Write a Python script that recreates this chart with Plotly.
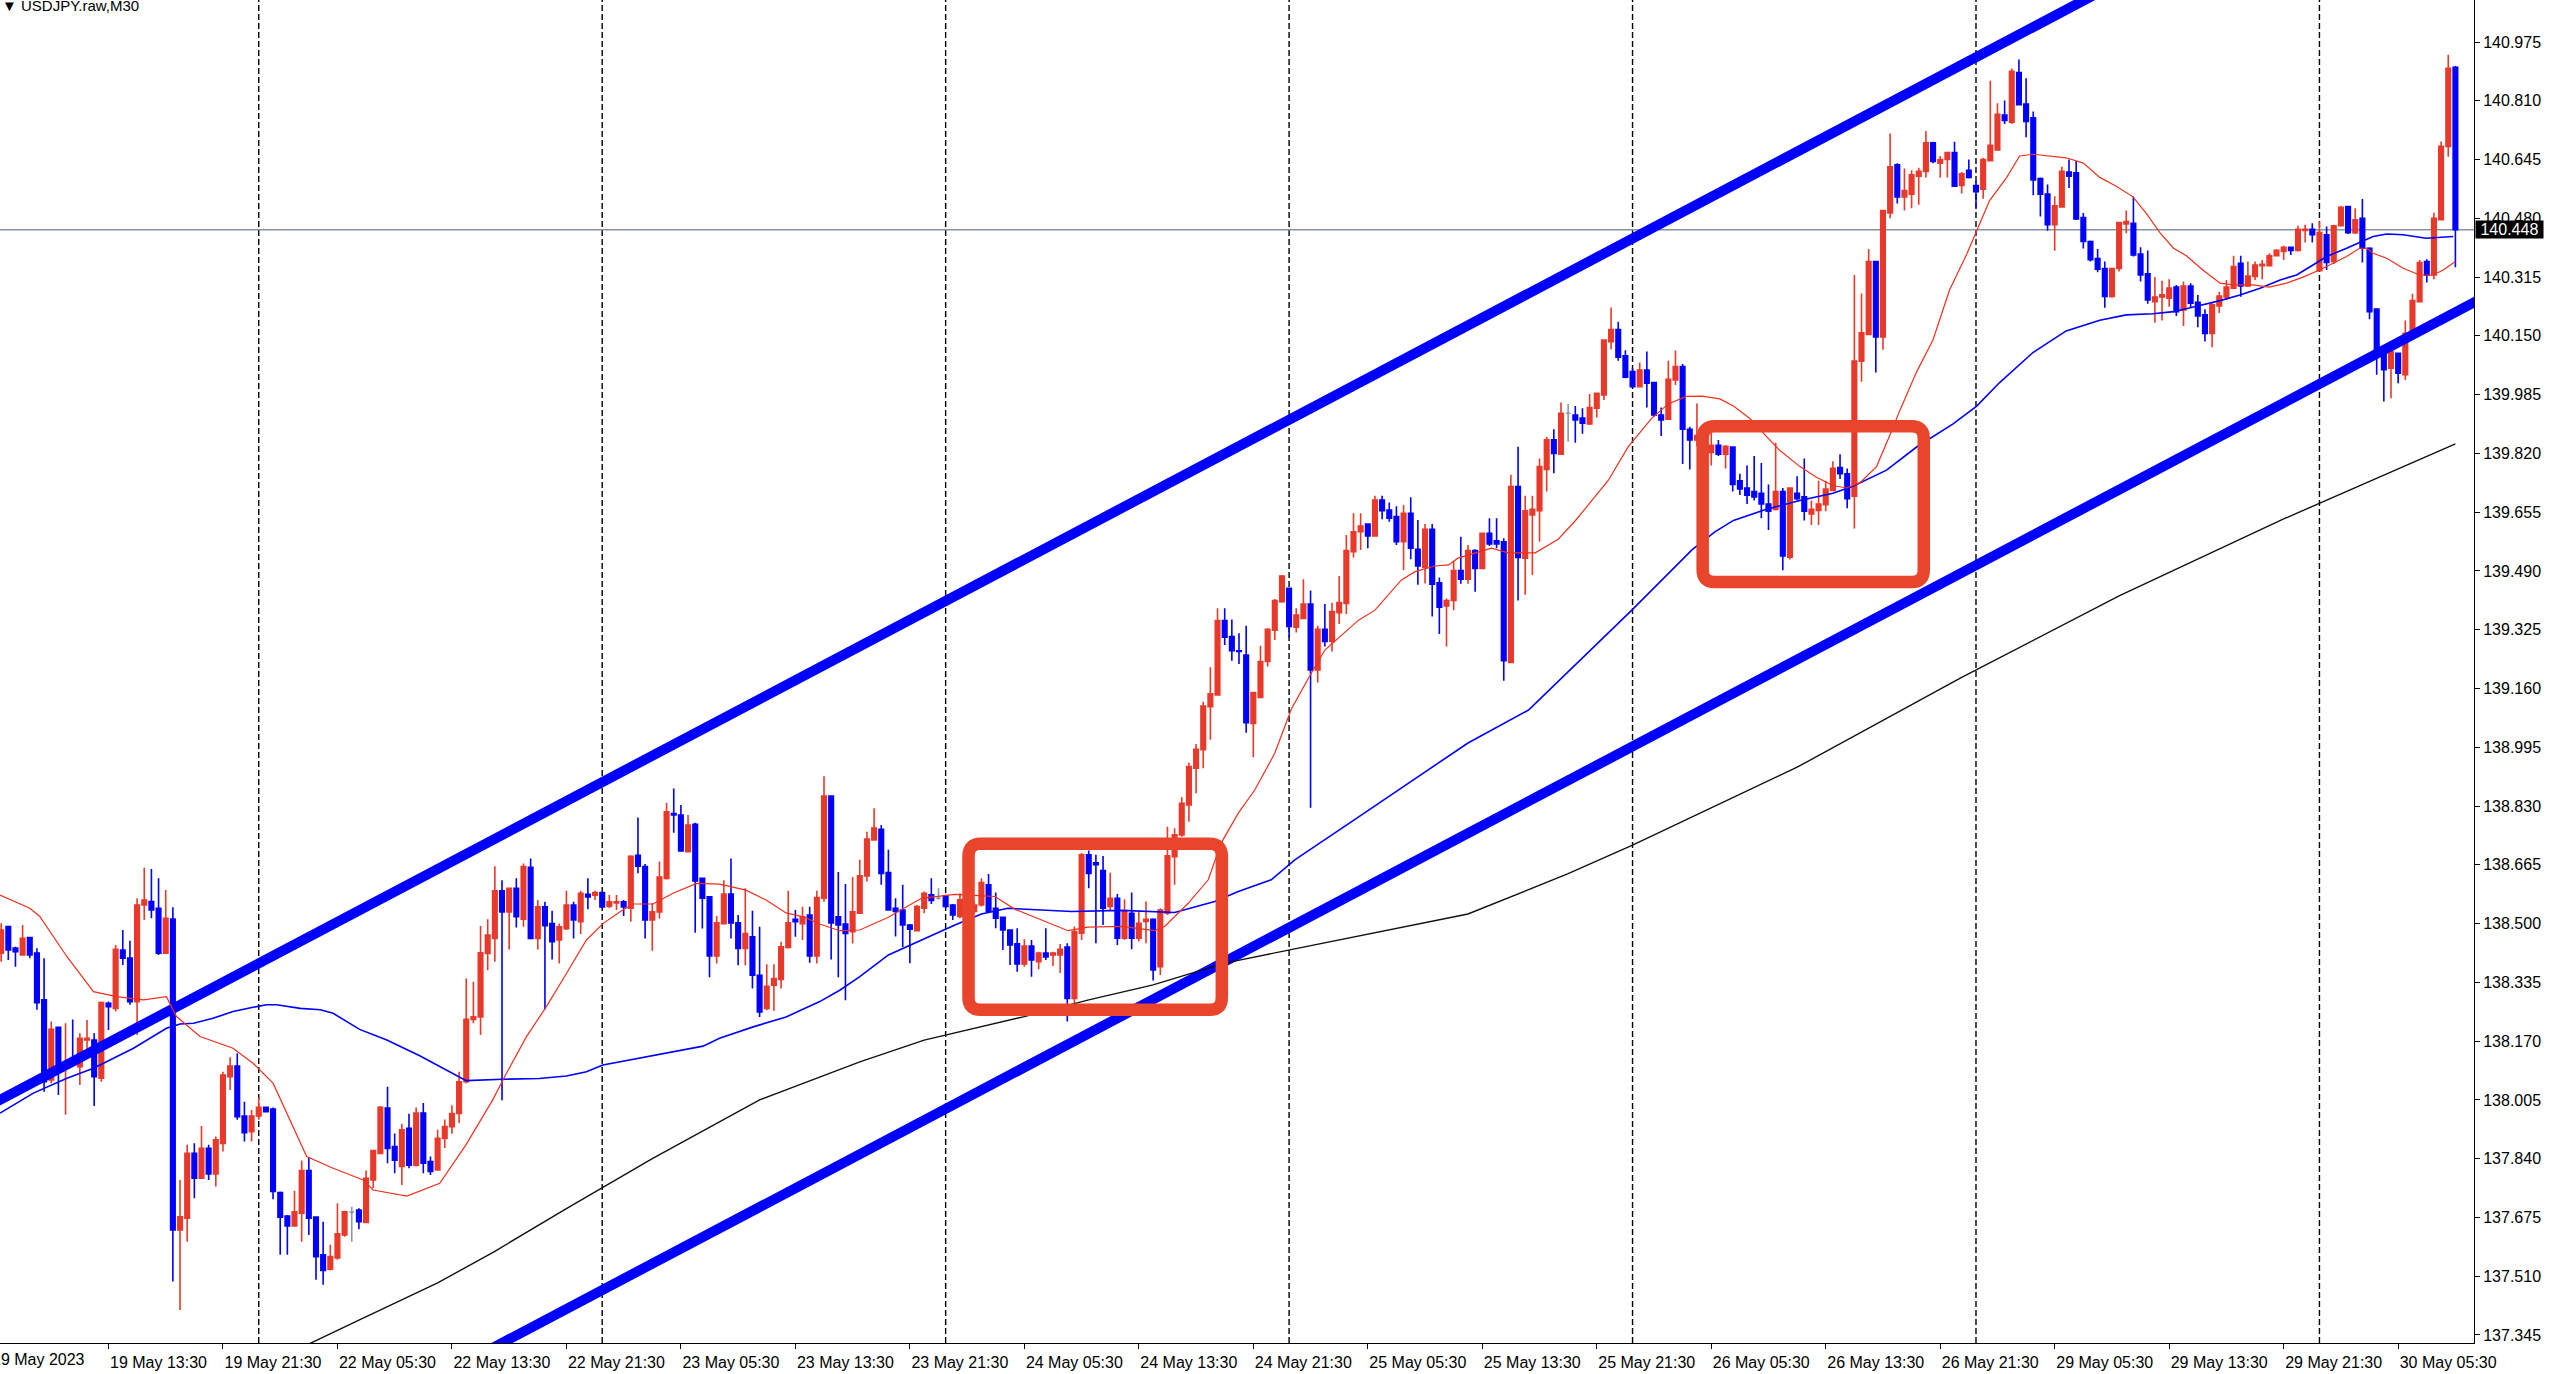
import pandas as pd
import plotly.graph_objects as go

# USDJPY.raw M30, one candle per 30 minutes from 19 May 06:00 to 30 May 09:30 (server time)
opens = [
    138.417, 138.492, 138.431, 138.412, 138.461, 138.417, 138.286, 138.061, 138.209, 138.094,
    138.122, 138.098, 138.173, 138.173, 138.066, 138.276, 138.262, 138.426, 138.403, 138.281,
    138.552, 138.562, 138.543, 138.417, 138.513, 137.640, 137.673, 137.855, 137.785, 137.869,
    137.797, 137.883, 138.070, 138.100, 137.960, 137.916, 137.960, 137.984, 137.979, 137.745,
    137.679, 137.651, 137.687, 137.807, 137.676, 137.570, 137.530, 137.561, 137.626, 137.690,
    137.696, 137.661, 137.780, 137.855, 137.982, 137.874, 137.818, 137.925, 137.822, 137.968,
    137.832, 137.808, 137.897, 137.930, 137.967, 138.056, 138.231, 138.238, 138.416, 138.458,
    138.592, 138.533, 138.599, 138.512, 138.658, 138.458, 138.547, 138.500, 138.454, 138.486,
    138.552, 138.505, 138.582, 138.580, 138.587, 138.549, 138.558, 138.561, 138.543, 138.692,
    138.660, 138.510, 138.533, 138.627, 138.809, 138.805, 138.702, 138.779, 138.627, 138.575,
    138.409, 138.500, 138.583, 138.502, 138.430, 138.463, 138.355, 138.262, 138.327, 138.343,
    138.433, 138.512, 138.500, 138.524, 138.409, 138.571, 138.858, 138.519, 138.499, 138.477,
    138.529, 138.634, 138.735, 138.765, 138.643, 138.543, 138.538, 138.496, 138.480, 138.543,
    138.581, 138.571, 138.578, 138.552, 138.520, 138.524, 138.534, 138.552, 138.609, 138.543,
    138.518, 138.482, 138.443, 138.387, 138.437, 138.393, 138.417, 138.412, 138.412, 138.434,
    138.290, 138.473, 138.693, 138.671, 138.649, 138.548, 138.571, 138.459, 138.529, 138.459,
    138.506, 138.512, 138.379, 138.529, 138.688, 138.749, 138.833, 138.936, 138.988, 139.109,
    139.142, 139.351, 139.306, 139.266, 139.254, 139.062, 139.135, 139.236, 139.324, 139.404,
    139.441, 139.332, 139.357, 139.397, 139.212, 139.326, 139.292, 139.373, 139.399, 139.544,
    139.600, 139.622, 139.588, 139.689, 139.661, 139.643, 139.572, 139.652, 139.551, 139.500,
    139.607, 139.457, 139.392, 139.407, 139.491, 139.467, 139.547, 139.497, 139.596, 139.575,
    139.572, 139.233, 139.727, 139.526, 139.647, 139.659, 139.775, 139.858, 139.818, 139.933,
    139.928, 139.919, 139.903, 139.947, 139.984, 140.134, 140.168, 140.094, 140.050, 140.007,
    140.054, 140.019, 139.928, 139.916, 140.026, 140.064, 139.888, 139.858, 139.858, 139.823,
    139.843, 139.818, 139.838, 139.743, 139.723, 139.713, 139.708, 139.678, 139.663, 139.713,
    139.529, 139.708, 139.698, 139.650, 139.660, 139.676, 139.716, 139.780, 139.763, 139.700,
    140.079, 140.154, 140.359, 140.147, 140.495, 140.630, 140.540, 140.548, 140.598, 140.612,
    140.692, 140.635, 140.645, 140.665, 140.572, 140.615, 140.572, 140.562, 140.642, 140.672,
    140.770, 140.750, 140.889, 140.801, 140.762, 140.592, 140.548, 140.462, 140.512, 140.610,
    140.608, 140.482, 140.415, 140.367, 140.339, 140.261, 140.339, 140.464, 140.466, 140.380,
    140.324, 140.246, 140.259, 140.256, 140.287, 140.223, 140.290, 140.244, 140.209, 140.157,
    140.234, 140.259, 140.284, 140.354, 140.290, 140.317, 140.347, 140.347, 140.375, 140.387,
    140.399, 140.390, 140.446, 140.449, 140.333, 140.434, 140.359, 140.459, 140.513, 140.440,
    140.480, 140.396, 140.225, 140.106, 140.059, 140.101, 140.041, 140.153, 140.246, 140.359,
    140.321, 140.476, 140.682, 140.904,
]
highs = [
    138.501, 138.493, 138.435, 138.496, 138.463, 138.431, 138.403, 138.225, 138.211, 138.220,
    138.231, 138.192, 138.229, 138.192, 138.281, 138.281, 138.440, 138.482, 138.452, 138.571,
    138.657, 138.653, 138.627, 138.594, 138.546, 137.780, 137.879, 137.883, 137.932, 137.879,
    137.902, 138.084, 138.125, 138.136, 138.000, 137.977, 138.012, 137.986, 137.984, 137.748,
    137.682, 137.750, 137.835, 137.844, 137.676, 137.663, 137.598, 137.715, 137.694, 137.705,
    137.701, 137.807, 137.863, 137.988, 138.042, 137.911, 137.938, 137.966, 137.984, 137.996,
    137.846, 137.921, 137.950, 137.990, 138.084, 138.346, 138.337, 138.493, 138.512, 138.661,
    138.622, 138.599, 138.627, 138.669, 138.683, 138.566, 138.561, 138.536, 138.500, 138.592,
    138.561, 138.592, 138.627, 138.592, 138.589, 138.580, 138.580, 138.566, 138.692, 138.798,
    138.667, 138.557, 138.674, 138.839, 138.879, 138.833, 138.805, 138.783, 138.627, 138.577,
    138.521, 138.622, 138.683, 138.524, 138.599, 138.536, 138.491, 138.386, 138.386, 138.449,
    138.592, 138.538, 138.547, 138.547, 138.592, 138.914, 138.858, 138.645, 138.611, 138.631,
    138.679, 138.758, 138.824, 138.777, 138.707, 138.571, 138.609, 138.499, 138.552, 138.590,
    138.627, 138.599, 138.581, 138.555, 138.585, 138.567, 138.562, 138.627, 138.639, 138.587,
    138.520, 138.484, 138.487, 138.456, 138.454, 138.421, 138.487, 138.421, 138.443, 138.445,
    138.492, 138.698, 138.705, 138.693, 138.690, 138.643, 138.583, 138.568, 138.587, 138.534,
    138.562, 138.515, 138.543, 138.772, 138.768, 138.855, 138.952, 139.004, 139.123, 139.220,
    139.385, 139.385, 139.354, 139.315, 139.336, 139.149, 139.280, 139.329, 139.411, 139.479,
    139.441, 139.385, 139.467, 139.435, 139.336, 139.397, 139.401, 139.476, 139.591, 139.652,
    139.652, 139.624, 139.701, 139.701, 139.682, 139.672, 139.675, 139.697, 139.633, 139.622,
    139.622, 139.472, 139.413, 139.519, 139.586, 139.563, 139.551, 139.598, 139.638, 139.638,
    139.582, 139.760, 139.839, 139.701, 139.701, 139.806, 139.867, 139.888, 139.963, 139.959,
    139.953, 139.947, 139.987, 139.989, 140.140, 140.230, 140.190, 140.110, 140.059, 140.075,
    140.106, 140.019, 139.949, 140.080, 140.109, 140.071, 139.895, 139.960, 139.868, 139.878,
    139.858, 139.843, 139.838, 139.763, 139.786, 139.813, 139.793, 139.733, 139.850, 139.723,
    139.723, 139.756, 139.806, 139.688, 139.743, 139.743, 139.798, 139.818, 139.778, 140.321,
    140.269, 140.394, 140.359, 140.502, 140.718, 140.635, 140.620, 140.615, 140.622, 140.725,
    140.695, 140.655, 140.665, 140.695, 140.610, 140.645, 140.585, 140.650, 140.866, 140.803,
    140.811, 140.901, 140.926, 140.873, 140.780, 140.595, 140.575, 140.542, 140.625, 140.645,
    140.642, 140.495, 140.418, 140.394, 140.359, 140.339, 140.470, 140.502, 140.541, 140.399,
    140.390, 140.315, 140.305, 140.309, 140.293, 140.303, 140.298, 140.265, 140.225, 140.242,
    140.274, 140.307, 140.375, 140.375, 140.359, 140.359, 140.363, 140.382, 140.393, 140.403,
    140.399, 140.459, 140.462, 140.466, 140.471, 140.457, 140.462, 140.515, 140.515, 140.508,
    140.534, 140.399, 140.225, 140.106, 140.113, 140.103, 140.193, 140.268, 140.363, 140.365,
    140.496, 140.696, 140.939, 140.908,
]
lows = [
    138.393, 138.398, 138.379, 138.412, 138.403, 138.258, 138.028, 138.052, 138.019, 137.963,
    138.098, 138.047, 138.136, 137.988, 138.056, 138.201, 138.253, 138.384, 138.272, 138.187,
    138.510, 138.515, 138.412, 138.417, 137.495, 137.415, 137.607, 137.729, 137.785, 137.780,
    137.762, 137.860, 138.033, 137.949, 137.888, 137.888, 137.949, 137.972, 137.726, 137.570,
    137.570, 137.649, 137.607, 137.626, 137.500, 137.486, 137.526, 137.556, 137.621, 137.607,
    137.642, 137.661, 137.757, 137.855, 137.827, 137.799, 137.766, 137.813, 137.818, 137.799,
    137.794, 137.808, 137.870, 137.910, 137.940, 138.051, 138.220, 138.187, 138.369, 138.393,
    138.004, 138.427, 138.489, 138.491, 138.458, 138.427, 138.259, 138.399, 138.388, 138.482,
    138.458, 138.471, 138.540, 138.566, 138.543, 138.543, 138.538, 138.521, 138.505, 138.641,
    138.458, 138.424, 138.514, 138.624, 138.755, 138.702, 138.702, 138.474, 138.486, 138.349,
    138.388, 138.500, 138.458, 138.383, 138.383, 138.318, 138.238, 138.257, 138.255, 138.318,
    138.430, 138.463, 138.454, 138.390, 138.388, 138.561, 138.399, 138.349, 138.285, 138.444,
    138.527, 138.618, 138.735, 138.609, 138.538, 138.464, 138.434, 138.389, 138.478, 138.529,
    138.555, 138.567, 138.543, 138.510, 138.515, 138.520, 138.529, 138.548, 138.531, 138.487,
    138.426, 138.384, 138.365, 138.379, 138.351, 138.372, 138.398, 138.381, 138.361, 138.225,
    138.272, 138.454, 138.599, 138.445, 138.496, 138.538, 138.440, 138.454, 138.428, 138.450,
    138.445, 138.340, 138.356, 138.524, 138.609, 138.744, 138.786, 138.866, 138.936, 139.016,
    139.142, 139.282, 139.238, 139.229, 139.036, 138.967, 139.135, 139.222, 139.296, 139.401,
    139.304, 139.317, 139.357, 138.825, 139.177, 139.278, 139.264, 139.341, 139.369, 139.528,
    139.549, 139.554, 139.588, 139.635, 139.628, 139.563, 139.493, 139.523, 139.451, 139.455,
    139.362, 139.313, 139.278, 139.380, 139.454, 139.454, 139.432, 139.497, 139.560, 139.554,
    139.182, 139.233, 139.407, 139.423, 139.479, 139.572, 139.713, 139.764, 139.816, 139.853,
    139.850, 139.875, 139.900, 139.921, 139.970, 140.112, 140.080, 140.031, 140.007, 140.006,
    139.949, 139.923, 139.869, 139.916, 140.012, 139.790, 139.775, 139.840, 139.818, 139.786,
    139.813, 139.778, 139.713, 139.703, 139.678, 139.688, 139.638, 139.605, 139.660, 139.492,
    139.522, 139.688, 139.632, 139.619, 139.619, 139.658, 139.716, 139.748, 139.666, 139.609,
    140.021, 140.154, 140.047, 140.111, 140.480, 140.522, 140.502, 140.508, 140.518, 140.595,
    140.635, 140.595, 140.595, 140.568, 140.550, 140.592, 140.510, 140.535, 140.642, 140.670,
    140.745, 140.745, 140.799, 140.708, 140.545, 140.485, 140.445, 140.389, 140.510, 140.565,
    140.475, 140.395, 140.359, 140.329, 140.229, 140.257, 140.331, 140.438, 140.373, 140.303,
    140.240, 140.187, 140.193, 140.232, 140.206, 140.178, 140.230, 140.174, 140.134, 140.118,
    140.214, 140.251, 140.281, 140.260, 140.287, 140.307, 140.309, 140.345, 140.373, 140.363,
    140.377, 140.387, 140.412, 140.412, 140.331, 140.335, 140.352, 140.457, 140.436, 140.436,
    140.356, 140.197, 140.041, 139.966, 139.975, 140.017, 140.026, 140.153, 140.246, 140.300,
    140.309, 140.476, 140.653, 140.343,
]
closes = [
    138.482, 138.426, 138.421, 138.459, 138.412, 138.278, 138.056, 138.203, 138.089, 138.108,
    138.103, 138.178, 138.178, 138.070, 138.278, 138.267, 138.428, 138.403, 138.281, 138.552,
    138.566, 138.538, 138.417, 138.515, 137.640, 137.677, 137.855, 137.785, 137.869, 137.797,
    137.893, 138.075, 138.100, 137.958, 137.913, 137.960, 137.984, 137.972, 137.748, 137.676,
    137.651, 137.691, 137.807, 137.673, 137.565, 137.526, 137.565, 137.629, 137.691, 137.690,
    137.663, 137.785, 137.863, 137.984, 137.869, 137.836, 137.921, 137.822, 137.968, 137.827,
    137.804, 137.897, 137.930, 137.967, 138.056, 138.231, 138.238, 138.418, 138.468, 138.592,
    138.533, 138.599, 138.519, 138.660, 138.458, 138.547, 138.494, 138.449, 138.491, 138.552,
    138.510, 138.585, 138.575, 138.587, 138.547, 138.561, 138.561, 138.547, 138.689, 138.661,
    138.510, 138.533, 138.631, 138.814, 138.805, 138.704, 138.777, 138.620, 138.571, 138.409,
    138.502, 138.583, 138.502, 138.430, 138.472, 138.355, 138.252, 138.324, 138.346, 138.435,
    138.502, 138.505, 138.519, 138.409, 138.573, 138.858, 138.502, 138.496, 138.472, 138.533,
    138.634, 138.737, 138.768, 138.641, 138.538, 138.534, 138.496, 138.484, 138.548, 138.585,
    138.565, 138.571, 138.548, 138.524, 138.567, 138.552, 138.552, 138.615, 138.534, 138.515,
    138.482, 138.440, 138.387, 138.437, 138.398, 138.417, 138.406, 138.417, 138.428, 138.290,
    138.478, 138.693, 138.641, 138.665, 138.543, 138.571, 138.459, 138.534, 138.459, 138.501,
    138.512, 138.370, 138.538, 138.690, 138.749, 138.838, 138.941, 138.989, 139.111, 139.145,
    139.351, 139.304, 139.266, 139.264, 139.064, 139.149, 139.236, 139.326, 139.407, 139.476,
    139.334, 139.366, 139.397, 139.212, 139.326, 139.292, 139.376, 139.401, 139.547, 139.600,
    139.616, 139.588, 139.689, 139.659, 139.638, 139.572, 139.652, 139.554, 139.504, 139.607,
    139.453, 139.388, 139.407, 139.491, 139.467, 139.547, 139.497, 139.596, 139.566, 139.566,
    139.238, 139.727, 139.528, 139.659, 139.663, 139.783, 139.858, 139.820, 139.933, 139.933,
    139.914, 139.905, 139.949, 139.989, 140.138, 140.168, 140.090, 140.034, 140.007, 140.054,
    140.017, 139.928, 139.914, 140.028, 140.064, 139.888, 139.858, 139.870, 139.828, 139.843,
    139.818, 139.840, 139.733, 139.720, 139.703, 139.698, 139.678, 139.658, 139.713, 139.532,
    139.723, 139.693, 139.658, 139.663, 139.678, 139.720, 139.778, 139.763, 139.693, 140.079,
    140.159, 140.359, 140.147, 140.502, 140.625, 140.540, 140.558, 140.602, 140.612, 140.692,
    140.640, 140.645, 140.665, 140.570, 140.605, 140.595, 140.555, 140.645, 140.685, 140.772,
    140.755, 140.893, 140.799, 140.752, 140.588, 140.548, 140.462, 140.515, 140.612, 140.598,
    140.478, 140.415, 140.364, 140.337, 140.261, 140.339, 140.468, 140.471, 140.377, 140.321,
    140.251, 140.259, 140.265, 140.284, 140.218, 140.290, 140.242, 140.206, 140.157, 140.237,
    140.262, 140.287, 140.345, 140.290, 140.318, 140.349, 140.351, 140.375, 140.390, 140.399,
    140.390, 140.449, 140.449, 140.434, 140.440, 140.356, 140.459, 140.511, 140.440, 140.476,
    140.396, 140.218, 140.106, 140.055, 140.106, 140.045, 140.157, 140.249, 140.356, 140.321,
    140.480, 140.682, 140.901, 140.448,
]

# moving averages as (bar number, price)
fast_ma_bars = [0.84, 5.0, 6.4, 10.2, 13.9, 17.1, 20.9, 24.1, 25.5, 28.8, 33.4, 36.2, 39.0, 40.9, 43.7,
                47.4, 51.6, 53.0, 57.7, 62.3, 66.0, 69.7, 71.6, 74.4, 77.2, 80.0, 82.8, 85.1, 87.5,
                89.3, 92.1, 94.9, 98.2, 101.4, 105.1, 107.9, 110.7, 113.1, 115.4, 118.2, 121.0,
                125.0, 129.6, 134.3, 139.9, 142.7, 145.9, 150.1, 152.9, 157.6, 162.2, 163.6, 166.9,
                169.7, 171.5, 173.9, 176.2, 179.0, 181.3, 183.7, 186.0, 190.7, 193.0, 196.7, 198.6,
                201.4, 203.3, 204.6, 209.3, 211.6, 215.4, 218.6, 221.0, 223.8, 225.6, 228.4, 230.3,
                231.7, 234.0, 236.5, 238.7, 241.2, 243.1, 245.4, 247.7, 249.6, 252.4, 254.7, 257.0,
                258.9, 260.8, 263.1, 265.0, 266.3, 268.7, 271.0, 273.3, 275.7, 277.1, 278.9, 281.3,
                283.1, 285.0, 287.8, 289.6, 292.0, 294.3, 296.6, 298.9, 300.8, 302.7, 304.6, 306.4,
                308.7, 311.1, 312.9, 315.7, 318.0, 320.4, 322.7, 325.0, 326.9, 328.8, 330.6, 331.6,
                332.5, 334.4, 336.7, 339.0, 340.9, 342.3, 344.0]
fast_ma_vals = [138.580, 138.543, 138.520, 138.407, 138.309, 138.295, 138.286, 138.295, 138.239,
                138.183, 138.150, 138.108, 138.052, 137.967, 137.846, 137.813, 137.780, 137.752,
                137.735, 137.771, 137.880, 138.005, 138.079, 138.182, 138.267, 138.360, 138.454,
                138.500, 138.533, 138.555, 138.555, 138.585, 138.613, 138.611, 138.594, 138.566,
                138.530, 138.519, 138.499, 138.480, 138.482, 138.518, 138.571, 138.582, 138.576,
                138.540, 138.515, 138.480, 138.490, 138.492, 138.480, 138.492, 138.557, 138.623,
                138.726, 138.810, 138.875, 138.978, 139.102, 139.189, 139.268, 139.352, 139.380,
                139.465, 139.488, 139.504, 139.507, 139.526, 139.554, 139.541, 139.541, 139.579,
                139.631, 139.699, 139.744, 139.839, 139.886, 139.919, 139.959, 139.980, 139.981,
                139.973, 139.953, 139.918, 139.868, 139.828, 139.783, 139.753, 139.730, 139.723,
                139.738, 139.783, 139.873, 139.938, 140.049, 140.139, 140.279, 140.379, 140.445,
                140.530, 140.595, 140.655, 140.660, 140.655, 140.650, 140.635, 140.595, 140.570,
                140.541, 140.494, 140.440, 140.396, 140.375, 140.335, 140.298, 140.293, 140.293,
                140.287, 140.298, 140.315, 140.335, 140.354, 140.373, 140.396, 140.396, 140.382,
                140.368, 140.340, 140.321, 140.321, 140.335, 140.359]

mid_ma_bars = [0.84, 5.5, 10.2, 13.9, 19.5, 24.1, 26.0, 27.9, 30.6, 33.4, 36.2, 38.1, 39.5, 42.8, 45.6,
               47.4, 51.1, 54.9, 59.5, 64.2, 66.0, 71.1, 76.2, 80.0, 82.8, 85.1, 87.5, 92.1, 99.1,
               101.4, 106.1, 110.7, 115.4, 118.2, 121.0, 125.0, 129.6, 134.3, 138.0, 141.7, 146.4,
               150.6, 157.6, 165.0, 170.6, 173.9, 178.5, 181.8, 190.0, 206.0, 214.5, 228.9, 237.3,
               240.5, 243.1, 247.7, 252.4, 257.0, 259.8, 264.5, 268.7, 271.0, 273.8, 277.1, 280.3,
               285.0, 289.6, 294.3, 298.0, 301.7, 304.6, 307.4, 311.1, 313.9, 316.7, 319.5, 321.8,
               324.1, 326.0, 328.8, 330.6, 332.5, 334.4, 336.7, 339.9, 343.7]
mid_ma_vals = [137.968, 138.024, 138.066, 138.094, 138.150, 138.206, 138.218, 138.220, 138.234,
               138.253, 138.265, 138.272, 138.272, 138.262, 138.258, 138.248, 138.203, 138.173,
               138.129, 138.079, 138.059, 138.063, 138.065, 138.072, 138.084, 138.103, 138.112,
               138.131, 138.156, 138.178, 138.210, 138.238, 138.281, 138.313, 138.351, 138.412,
               138.454, 138.496, 138.527, 138.543, 138.538, 138.534, 138.537, 138.531, 138.562,
               138.590, 138.623, 138.679, 138.790, 139.007, 139.100, 139.380, 139.549, 139.600,
               139.632, 139.663, 139.688, 139.708, 139.728, 139.773, 139.838, 139.868, 139.903,
               139.953, 140.019, 140.104, 140.164, 140.194, 140.209, 140.212, 140.218, 140.231,
               140.249, 140.265, 140.284, 140.307, 140.321, 140.349, 140.373, 140.396, 140.412,
               140.429, 140.436, 140.434, 140.424, 140.429]

slow_ma_bars = [35, 43, 51, 62, 70, 80, 92, 107, 121, 130, 144, 153, 162, 172, 183, 206, 220, 229,
                252, 275, 297, 320, 344]
slow_ma_vals = [137.240, 137.310, 137.387, 137.491, 137.580, 137.700, 137.840, 138.005, 138.112,
                138.173, 138.239, 138.286, 138.328, 138.389, 138.434, 138.527, 138.640, 138.720,
                138.939, 139.191, 139.420, 139.636, 139.847]

# hand-drawn channel (two points each) and the highlighted zones
channel_bars = [0, 350]
channel_upper = [137.996, 141.706]
channel_lower = [136.570, 140.280]
zones = [(136.2, 171.6, 138.258, 138.724), (238.8, 269.7, 139.459, 139.896)]

last_price = 140.448
price_ticks = [137.345, 137.510, 137.675, 137.840, 138.005, 138.170, 138.335, 138.500, 138.665,
               138.830, 138.995, 139.160, 139.325, 139.490, 139.655, 139.820, 139.985, 140.150,
               140.315, 140.480, 140.645, 140.810, 140.975]

times = [t for t in pd.date_range("2023-05-19 06:00", "2023-05-30 09:30", freq="30min") if t.weekday() < 5]
bars = list(range(1, len(times) + 1))

tick_bars = [b for b, t in zip(bars, times) if t.strftime("%H:%M") in ("05:30", "13:30", "21:30")]
tick_text = [t.strftime("%d %b %H:%M") for t in times if t.strftime("%H:%M") in ("05:30", "13:30", "21:30")]
day_starts = [b for b, t in zip(bars, times) if t.hour == 0 and t.minute == 0]

RED = "#e8392a"
BLUE = "#0000ff"
FONT = "Liberation Sans, Arial, sans-serif"

doji = [i for i in range(len(bars)) if opens[i] == closes[i]]
body = [i for i in range(len(bars)) if opens[i] != closes[i]]

fig = go.Figure()

for ys in (channel_upper, channel_lower):
    fig.add_trace(go.Scatter(x=channel_bars, y=ys, mode="lines",
                             line=dict(color=BLUE, width=10), hoverinfo="skip"))

fig.add_trace(go.Candlestick(
    x=[bars[i] for i in body], open=[opens[i] for i in body], high=[highs[i] for i in body],
    low=[lows[i] for i in body], close=[closes[i] for i in body],
    increasing=dict(line=dict(color=RED, width=1.6), fillcolor=RED),
    decreasing=dict(line=dict(color=BLUE, width=1.6), fillcolor=BLUE),
))
fig.add_trace(go.Candlestick(
    x=[bars[i] for i in doji], open=[opens[i] for i in doji], high=[highs[i] for i in doji],
    low=[lows[i] for i in doji], close=[closes[i] for i in doji],
    increasing=dict(line=dict(color="#8a97a8", width=1.6), fillcolor="#8a97a8"),
    decreasing=dict(line=dict(color="#8a97a8", width=1.6), fillcolor="#8a97a8"),
))

fig.add_trace(go.Scatter(x=slow_ma_bars, y=slow_ma_vals, mode="lines",
                         line=dict(color="#111111", width=1.4), hoverinfo="skip"))
fig.add_trace(go.Scatter(x=mid_ma_bars, y=mid_ma_vals, mode="lines",
                         line=dict(color=BLUE, width=1.6), hoverinfo="skip"))
fig.add_trace(go.Scatter(x=fast_ma_bars, y=fast_ma_vals, mode="lines",
                         line=dict(color="#f0301e", width=1.2), hoverinfo="skip"))

# daily separators
for b in day_starts:
    fig.add_shape(type="line", xref="x", yref="paper", x0=b, x1=b, y0=0, y1=1, layer="below",
                  line=dict(color="black", width=1.4, dash="6px,3px"))

fig.add_shape(type="line", xref="paper", yref="y", x0=0, x1=1, y0=last_price, y1=last_price,
              layer="below", line=dict(color="#8494a8", width=1.5))


def rounded_box(x0, x1, y0, y1, rx=1.7, ry=0.034):
    return (f"M {x0 + rx},{y0} L {x1 - rx},{y0} Q {x1},{y0} {x1},{y0 + ry} "
            f"L {x1},{y1 - ry} Q {x1},{y1} {x1 - rx},{y1} L {x0 + rx},{y1} "
            f"Q {x0},{y1} {x0},{y1 - ry} L {x0},{y0 + ry} Q {x0},{y0} {x0 + rx},{y0} Z")


for x0, x1, y0, y1 in zones:
    fig.add_shape(type="path", xref="x", yref="y", path=rounded_box(x0, x1, y0, y1),
                  line=dict(color="#e8452c", width=12.5), layer="above")

fig.add_annotation(xref="paper", yref="y", x=1, y=last_price, xanchor="left", yanchor="middle",
                   xshift=1, text="\u00a0" + f"{last_price:.3f}" + "\u00a0", showarrow=False,
                   bgcolor="black", borderpad=0, font=dict(family=FONT, size=16, color="white"))
fig.add_annotation(xref="paper", yref="paper", x=0, y=1, xanchor="left", yanchor="top", yshift=5,
                   text="\u25bc USDJPY.raw,M30", showarrow=False,
                   font=dict(family=FONT, size=15, color="black"))
fig.add_annotation(xref="paper", yref="paper", x=0, y=0, xanchor="left", yanchor="top",
                   xshift=-10, yshift=-6, text=times[0].strftime("%d %b %Y"), showarrow=False,
                   font=dict(family=FONT, size=16, color="black"))

fig.update_layout(
    width=2560, height=1374,
    margin=dict(l=0, r=86, t=0, b=31),
    paper_bgcolor="white", plot_bgcolor="white",
    showlegend=False,
    boxgap=0.37, boxgroupgap=0,
    font=dict(family=FONT, size=16, color="black"),
    xaxis=dict(range=[0.84, 346.6], showgrid=False, zeroline=False,
               rangeslider=dict(visible=False), tickmode="array", tickvals=tick_bars,
               ticktext=tick_text, ticks="outside", ticklen=5, tickcolor="black", tickangle=0,
               ticklabelshift=50, showline=True, linecolor="black", linewidth=1),
    yaxis=dict(side="right", range=[137.3225, 141.093], tickmode="array", tickvals=price_ticks,
               ticktext=[f"{v:.3f}" for v in price_ticks], ticks="outside", ticklen=5,
               tickcolor="black", showgrid=False, zeroline=False, showline=True,
               linecolor="black", linewidth=1),
)

fig.write_html("out.html", config={"displayModeBar": False},
               post_script="document.body.style.margin='0';")
